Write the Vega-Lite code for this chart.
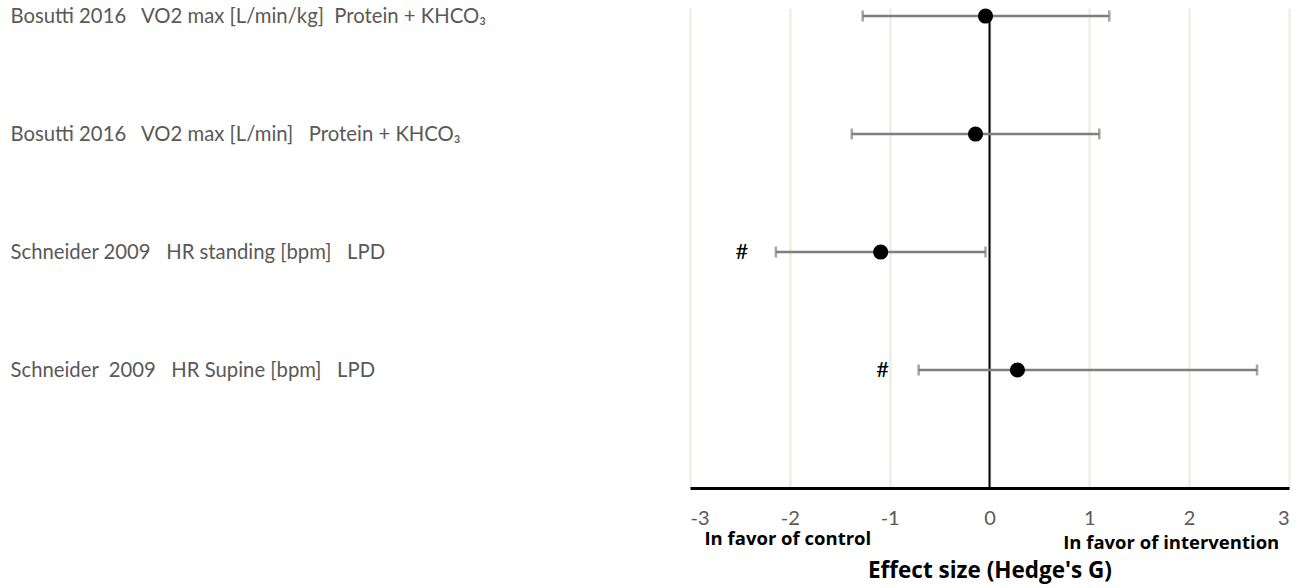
{
  "$schema": "https://vega.github.io/schema/vega-lite/v6.json",
  "width": 599,
  "height": 480,
  "autosize": "none",
  "padding": {"left": 690, "top": 8, "right": 19, "bottom": 100},
  "background": "white",
  "config": {"view": {"stroke": null}},
  "datasets": {
    "studies": [
      {"pos": 4, "g": -0.04, "lo": -1.27, "hi": 1.2, "flag": "", "flagx": null},
      {"pos": 3, "g": -0.14, "lo": -1.38, "hi": 1.1, "flag": "", "flagx": null},
      {"pos": 2, "g": -1.09, "lo": -2.14, "hi": -0.04, "flag": "#", "flagx": -2.48},
      {"pos": 1, "g": 0.28, "lo": -0.71, "hi": 2.68, "flag": "#", "flagx": -1.07}
    ],
    "zero": [{"z": 0, "y0": 0, "y1": 4}],
    "notes": [
      {"nx": -2.02, "ny": -0.43, "text": "In favor of control"},
      {"nx": 1.82, "ny": -0.47, "text": "In favor of intervention"}
    ]
  },
  "layer": [
    {
      "data": {"name": "zero"},
      "mark": {"type": "rule", "color": "#000000", "strokeWidth": 2},
      "encoding": {
        "x": {
          "field": "z", "type": "quantitative",
          "scale": {"domain": [-3, 3], "nice": false, "zero": false},
          "axis": {
            "values": [-3, -2, -1, 0, 1, 2, 3],
            "labelExpr": "datum.value + ''",
            "grid": true, "gridColor": "#ecebdf", "gridWidth": 2,
            "domain": true, "domainColor": "#000000", "domainWidth": 3,
            "ticks": false, "labelFont": "Lato", "labelFontSize": 20,
            "labelColor": "#595959", "labelPadding": 20,
            "title": "Effect size (Hedge's G)", "titleFont": "Open Sans",
            "titleFontSize": 22.5, "titleFontWeight": "bold", "titleColor": "#000000",
            "titlePadding": 31
          }
        },
        "y": {
          "field": "y0", "type": "quantitative",
          "scale": {"domain": [0, 4.068], "nice": false, "zero": false},
          "axis": {
            "values": [1, 2, 3, 4],
            "grid": false, "domain": false, "ticks": false,
            "labelAlign": "left", "labelPadding": 680, "labelBaseline": "middle",
            "labelFont": "Lato", "labelFontSize": 20.3, "labelColor": "#595959",
            "labelLimit": 0,
            "labelExpr": "datum.value == 4 ? 'Bosutti 2016\u00a0\u00a0\u00a0VO2 max [L/min/kg]\u00a0\u00a0Protein + KHCO\u2083' : datum.value == 3 ? 'Bosutti 2016\u00a0\u00a0\u00a0VO2 max [L/min]\u00a0\u00a0\u00a0Protein + KHCO\u2083' : datum.value == 2 ? 'Schneider 2009\u00a0\u00a0\u00a0HR standing [bpm]\u00a0\u00a0\u00a0LPD' : 'Schneider\u00a0\u00a02009\u00a0\u00a0\u00a0HR Supine [bpm]\u00a0\u00a0\u00a0LPD'",
            "title": null
          }
        },
        "y2": {"field": "y1"}
      }
    },
    {
      "data": {"name": "studies"},
      "mark": {"type": "rule", "color": "#7f7f7f", "strokeWidth": 2.5},
      "encoding": {
        "x": {"field": "lo", "type": "quantitative"},
        "x2": {"field": "hi"},
        "y": {"field": "pos", "type": "quantitative"}
      }
    },
    {
      "data": {"name": "studies"},
      "mark": {"type": "tick", "orient": "vertical", "color": "#7f7f7f", "thickness": 2.5, "size": 11},
      "encoding": {
        "x": {"field": "lo", "type": "quantitative"},
        "y": {"field": "pos", "type": "quantitative"}
      }
    },
    {
      "data": {"name": "studies"},
      "mark": {"type": "tick", "orient": "vertical", "color": "#7f7f7f", "thickness": 2.5, "size": 11},
      "encoding": {
        "x": {"field": "hi", "type": "quantitative"},
        "y": {"field": "pos", "type": "quantitative"}
      }
    },
    {
      "data": {"name": "studies"},
      "mark": {"type": "point", "filled": true, "shape": "circle", "color": "#000000", "opacity": 1, "size": 230},
      "encoding": {
        "x": {"field": "g", "type": "quantitative"},
        "y": {"field": "pos", "type": "quantitative"}
      }
    },
    {
      "data": {"name": "studies"},
      "transform": [{"filter": "datum.flag != ''"}],
      "mark": {"type": "text", "font": "Lato", "fontSize": 22, "color": "#000000", "baseline": "middle", "align": "center"},
      "encoding": {
        "x": {"field": "flagx", "type": "quantitative"},
        "y": {"field": "pos", "type": "quantitative"},
        "text": {"field": "flag"}
      }
    },
    {
      "data": {"name": "notes"},
      "mark": {"type": "text", "font": "Open Sans", "fontWeight": "bold", "fontSize": 18.5, "color": "#000000", "baseline": "middle", "align": "center"},
      "encoding": {
        "x": {"field": "nx", "type": "quantitative"},
        "y": {"field": "ny", "type": "quantitative"},
        "text": {"field": "text"}
      }
    }
  ]
}
